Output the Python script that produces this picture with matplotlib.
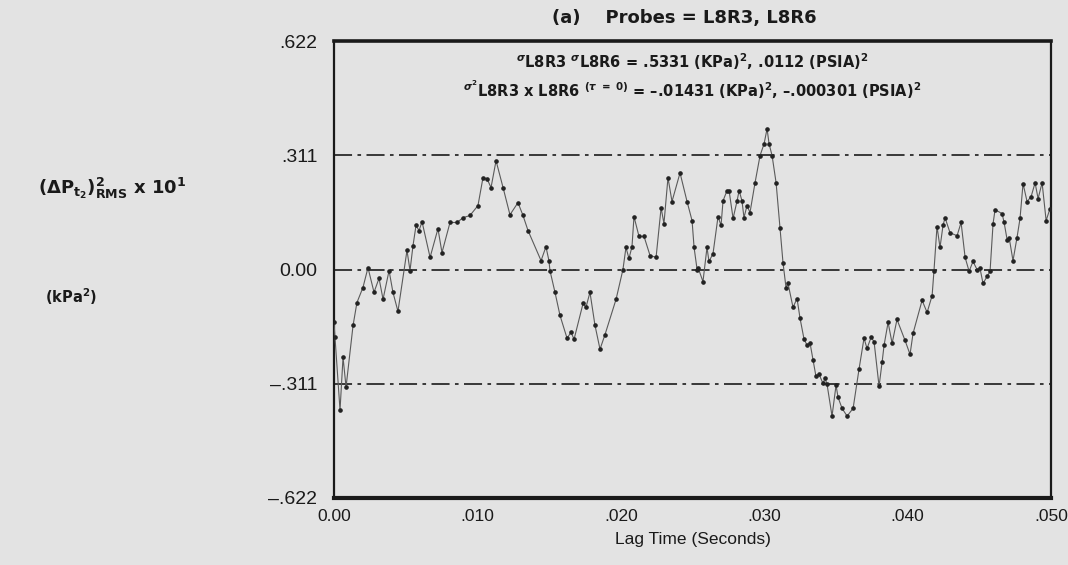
import matplotlib
matplotlib.use("Agg")
import matplotlib.pyplot as plt

plt.rcParams['font.family'] = ['Liberation Sans', 'DejaVu Sans']
plt.rcParams['mathtext.fontset'] = 'custom'
plt.rcParams['mathtext.rm'] = 'DejaVu Sans:bold'
plt.rcParams['mathtext.it'] = 'DejaVu Sans:italic:bold'
plt.rcParams['mathtext.bf'] = 'DejaVu Sans:bold'

# lag time (milliseconds -> seconds) and correlation values
lag_ms = [0.00, 0.07, 0.42, 0.63, 0.84, 1.33, 1.60, 2.02, 2.37, 2.79, 3.14, 3.42, 3.84, 4.11, 4.46,
          5.09, 5.30, 5.51, 5.72, 5.93, 6.14, 6.70, 7.25, 7.53, 8.09, 8.58, 9.00, 9.48, 10.04, 10.39,
          10.67, 10.95, 11.30, 11.79, 12.27, 12.83, 13.18, 13.53, 14.44, 14.78, 14.99, 15.06, 15.41,
          15.76, 16.25, 16.53, 16.74, 17.37, 17.57, 17.85, 18.20, 18.55, 18.90, 19.67, 20.15, 20.36,
          20.57, 20.78, 20.92, 21.27, 21.62, 22.04, 22.46, 22.81, 23.01, 23.29, 23.57, 24.13, 24.62,
          24.97, 25.11, 25.32, 25.39, 25.73, 26.01, 26.15, 26.43, 26.78, 26.99, 27.13, 27.41, 27.55,
          27.83, 28.11, 28.25, 28.45, 28.59, 28.80, 29.01, 29.36, 29.71, 29.99, 30.20, 30.34, 30.55,
          30.83, 31.10, 31.31, 31.52, 31.66, 32.01, 32.29, 32.50, 32.78, 32.99, 33.20, 33.41, 33.61,
          33.82, 34.10, 34.24, 34.38, 34.73, 35.01, 35.15, 35.43, 35.78, 36.20, 36.61, 36.96, 37.17,
          37.45, 37.66, 38.01, 38.22, 38.36, 38.64, 38.92, 39.26, 39.82, 40.17, 40.38, 41.01, 41.36,
          41.71, 41.84, 42.05, 42.26, 42.47, 42.61, 42.96, 43.45, 43.73, 44.01, 44.29, 44.56, 44.84,
          45.05, 45.26, 45.54, 45.75, 45.96, 46.10, 46.59, 46.73, 46.94, 47.08, 47.35, 47.63, 47.84,
          48.05, 48.33, 48.61, 48.89, 49.10, 49.38, 49.66, 49.93]
values = [-0.144, -0.185, -0.383, -0.239, -0.320, -0.152, -0.090, -0.049, 0.005, -0.062, -0.024,
          -0.081, -0.003, -0.062, -0.114, 0.052, -0.003, 0.065, 0.120, 0.106, 0.130, 0.033, 0.111,
          0.046, 0.128, 0.128, 0.141, 0.147, 0.174, 0.250, 0.247, 0.223, 0.296, 0.223, 0.149, 0.182,
          0.147, 0.106, 0.024, 0.062, 0.024, -0.003, -0.062, -0.125, -0.187, -0.171, -0.190, -0.092,
          -0.103, -0.062, -0.152, -0.217, -0.177, -0.081, 0.000, 0.060, 0.030, 0.062, 0.144, 0.090,
          0.090, 0.038, 0.033, 0.168, 0.125, 0.250, 0.185, 0.263, 0.185, 0.133, 0.060, 0.000, 0.005,
          -0.033, 0.060, 0.022, 0.043, 0.144, 0.120, 0.187, 0.215, 0.215, 0.139, 0.187, 0.215, 0.187,
          0.141, 0.174, 0.155, 0.236, 0.310, 0.342, 0.383, 0.342, 0.310, 0.236, 0.114, 0.019, -0.049,
          -0.038, -0.103, -0.079, -0.133, -0.190, -0.206, -0.201, -0.247, -0.291, -0.285, -0.310,
          -0.296, -0.312, -0.399, -0.315, -0.348, -0.378, -0.399, -0.378, -0.272, -0.187, -0.215,
          -0.185, -0.196, -0.318, -0.253, -0.206, -0.144, -0.201, -0.136, -0.193, -0.231, -0.174,
          -0.084, -0.117, -0.071, -0.003, 0.117, 0.060, 0.120, 0.141, 0.100, 0.092, 0.128, 0.033,
          -0.005, 0.022, 0.000, 0.003, -0.038, -0.019, -0.005, 0.125, 0.163, 0.152, 0.128, 0.081,
          0.087, 0.024, 0.087, 0.139, 0.234, 0.185, 0.198, 0.236, 0.193, 0.236, 0.133, 0.166]
lag_s = [v / 1000.0 for v in lag_ms]

x_ticks = [0.0, 0.010, 0.020, 0.030, 0.040, 0.050]
x_labels = ['0.00', '.010', '.020', '.030', '.040', '.050']
y_ticks = [-0.622, -0.311, 0.0, 0.311, 0.622]
y_labels = ['\u2013.622', '\u2013.311', '0.00', '.311', '.622']

title_text = '(a)    Probes = L8R3, L8R6'
note_line1 = r'$^{\sigma}$L8R3 $^{\sigma}$L8R6 = .5331 (KPa)$^{2}$, .0112 (PSIA)$^{2}$'
note_line2 = (r'$^{\sigma^{2}}$L8R3 x L8R6 $^{(\tau\ =\ 0)}$ = ' + '\u2013' + r'.01431 (KPa)$^{2}$, '
              + '\u2013' + r'.000301 (PSIA)$^{2}$')
xlabel_text = 'Lag Time (Seconds)'
ylabel_text = (r'($\Delta$P$_{\mathregular{t}_{\mathregular{2}}}$)$^{\mathregular{2}}_{\mathregular{RMS}}$'
               r' x 10$^{\mathregular{1}}$')
yunit_text = r'(kPa$^{\mathregular{2}}$)'

bg = '#e3e3e3'
ink = '#1a1a1a'

fig = plt.figure(figsize=(10.68, 5.65), dpi=100, facecolor=bg)
ax = fig.add_axes([334 / 1068, 1 - 498 / 565, (1051 - 334) / 1068, (498 - 41) / 565])
ax.set_facecolor(bg)

ax.set_xlim(0, 0.050)
ax.set_ylim(-0.622, 0.622)

for yv in [0.311, 0.0, -0.311]:
    ax.axhline(yv, color='#2a2a2a', lw=1.3, ls=(0, (10, 3, 2, 3)), zorder=1)

ax.plot(lag_s, values, color='#5a5a5a', lw=0.8, marker='o', ms=2.3,
        mfc='#222222', mec='#222222', zorder=3)

ax.set_xticks(x_ticks)
ax.set_xticklabels(x_labels)
ax.set_yticks(y_ticks)
ax.set_yticklabels(y_labels)
ax.tick_params(axis='x', length=0, labelsize=12.5, colors=ink, pad=8)
ax.tick_params(axis='y', length=0, labelsize=14, colors=ink, pad=12)

for side, lw in [('top', 2.6), ('bottom', 3.0), ('left', 1.6), ('right', 1.6)]:
    ax.spines[side].set_linewidth(lw)
    ax.spines[side].set_color(ink)

ax.set_xlabel(xlabel_text, fontsize=12.5, color=ink, labelpad=6)

fig.text(552 / 1068, 1 - 18 / 565, title_text, fontsize=13, family='DejaVu Sans',
         fontweight='bold', color=ink, ha='left', va='center')

ax.text(0.5, 1 - (62 - 41) / 457, note_line1, transform=ax.transAxes, fontsize=10.5,
        family='DejaVu Sans', fontweight='bold', color=ink, ha='center', va='center')
ax.text(0.5, 1 - (90 - 41) / 457, note_line2, transform=ax.transAxes, fontsize=10.5,
        family='DejaVu Sans', fontweight='bold', color=ink, ha='center', va='center')

fig.text(38 / 1068, 1 - 188 / 565, ylabel_text, fontsize=13, family='DejaVu Sans',
         fontweight='bold', color=ink, ha='left', va='center')
fig.text(45 / 1068, 1 - 297 / 565, yunit_text, fontsize=10.5, family='DejaVu Sans',
         fontweight='bold', color=ink, ha='left', va='center')

fig.savefig('out.png', dpi=100, facecolor=bg)
